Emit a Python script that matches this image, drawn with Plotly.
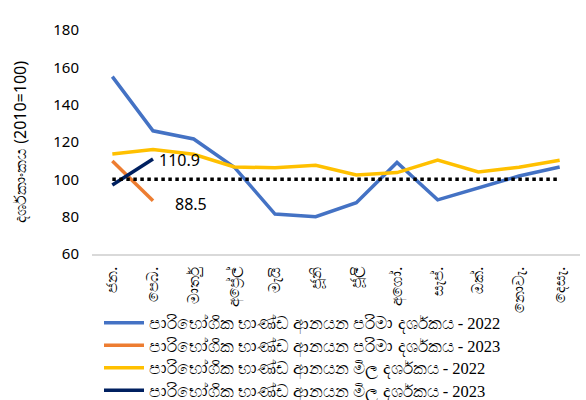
import plotly.graph_objects as go

months = ["ජන.", "පෙබ.", "මාර්තු", "අප්‍රේල්", "මැයි", "ජූනි", "ජූලි", "අගෝ.", "සැප්.", "ඔක්.", "නොවැ.", "දෙසැ."]
vol_2022 = [155.0, 126.0, 121.6, 106.5, 81.4, 80.0, 87.5, 109.0, 89.0, 95.3, 101.8, 106.6]
vol_2023 = [109.8, 88.5]
val_2022 = [113.6, 116.0, 113.4, 106.6, 106.2, 107.5, 102.3, 103.6, 110.3, 103.9, 106.5, 110.2]
val_2023 = [97.0, 110.9]
base = [100] * 12

names = [
    "පාරිභෝගික භාණ්ඩ ආනයන පරිමා දර්ශකය - 2022",
    "පාරිභෝගික භාණ්ඩ ආනයන පරිමා දර්ශකය - 2023",
    "පාරිභෝගික භාණ්ඩ ආනයන මිල දර්ශකය - 2022",
    "පාරිභෝගික භාණ්ඩ ආනයන මිල දර්ශකය - 2023",
]
colors = ["#4472C4", "#ED7D31", "#FFC000", "#002060"]
legend_ids = ["legend", "legend2", "legend3", "legend4"]

fig = go.Figure()
for name, ys, c, lg in zip(names, [vol_2022, vol_2023, val_2022, val_2023], colors, legend_ids):
    fig.add_trace(go.Scatter(x=months[:len(ys)], y=ys, mode="lines", name=name,
                             line=dict(color=c, width=3.5), legend=lg))
fig.add_trace(go.Scatter(x=months, y=base, mode="lines", showlegend=False,
                         line=dict(color="black", width=3.5, dash="dot")))

fig.add_annotation(x=months[1], y=val_2023[1], text=f"{val_2023[1]}", showarrow=False,
                   xanchor="left", xshift=4, yshift=-1, font=dict(size=16, color="#000000"))
fig.add_annotation(x=months[1], y=vol_2023[1], text=f"{vol_2023[1]}", showarrow=False,
                   xanchor="left", xshift=20, yshift=-3, font=dict(size=16, color="#000000"))

PL, PT, PW, PH = 92, 30, 488, 224
leg_common = dict(x=(99 - PL) / PW, xanchor="left",
                  yanchor="middle", orientation="v", bgcolor="rgba(0,0,0,0)",
                  font=dict(size=16.5, family="Liberation Serif, serif"), itemwidth=40)
row_y = [323, 345.5, 368, 390.5]
legends = {}
for lg, yy in zip(legend_ids, row_y):
    legends[lg] = dict(leg_common, y=(PT + PH - yy) / PH)

fig.update_layout(
    width=586, height=400,
    margin=dict(l=PL, r=586 - PL - PW, t=PT, b=400 - PT - PH, autoexpand=False),
    paper_bgcolor="white", plot_bgcolor="white",
    font=dict(family="Noto Sans, Open Sans, sans-serif", color="#000000", size=14),
    xaxis=dict(type="category", range=[-0.5, 11.5], showgrid=False, showline=True,
               linecolor="#D9D9D9", linewidth=1.5,
               tickangle=-90, ticks="", tickfont=dict(size=15), ticklabelstandoff=5),
    yaxis=dict(range=[60, 180], dtick=20, showgrid=False, zeroline=False, showline=False,
               ticks="", tickfont=dict(size=15), ticklabelstandoff=12,
               title=dict(text="දර්ශකාංකය (2010=100)", font=dict(size=16), standoff=22)),
    **legends,
)
fig.write_html("out.html", config={"displayModeBar": False},
               post_script="document.body.style.margin='0';")
